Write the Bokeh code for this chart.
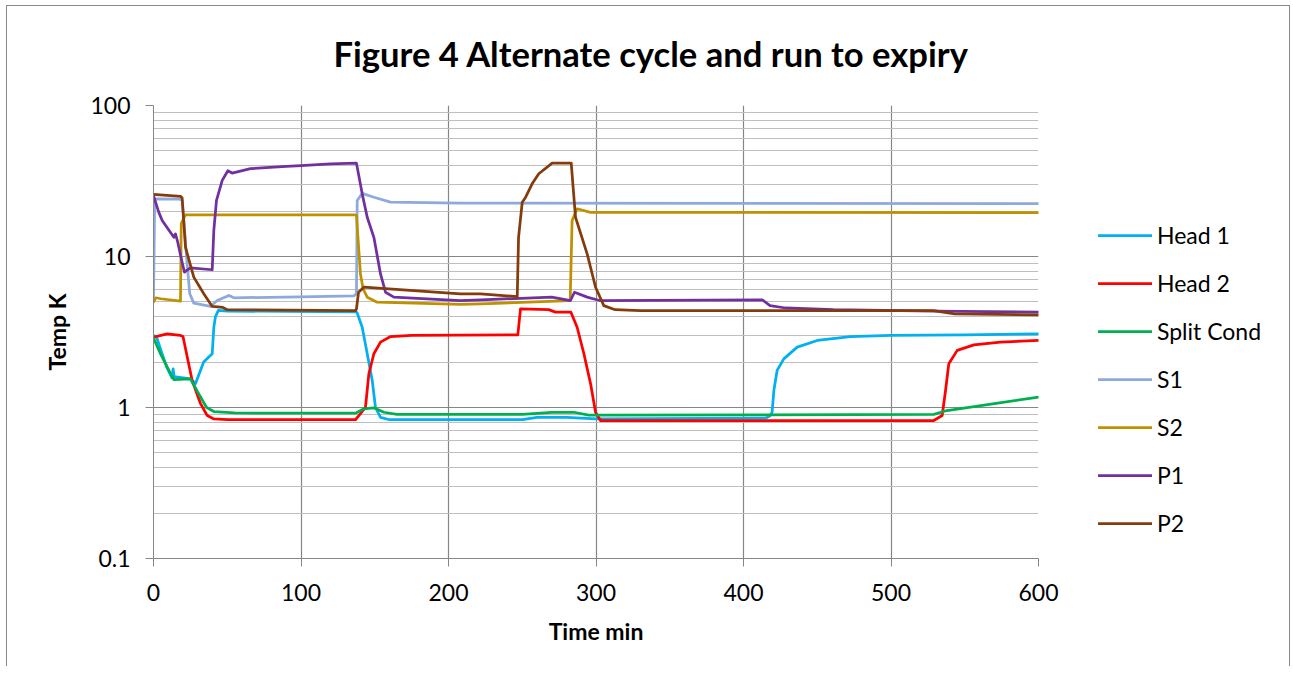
from bokeh.plotting import figure
from bokeh.layouts import row
from bokeh.models import (FixedTicker, Legend, LegendItem, CustomJSTickFormatter, Range1d,
                          LinearAxis)
from bokeh.embed import file_html
from bokeh.resources import INLINE

title_text = "Figure 4 Alternate cycle and run to expiry"
x_title = "Time min"
y_title = "Temp K"
x_ticks = [0, 100, 200, 300, 400, 500, 600]
y_ticks = [0.1, 1, 10, 100]
y_minor = [0.2, 0.3, 0.4, 0.5, 0.6, 0.7, 0.8, 0.9,
           2, 3, 4, 5, 6, 7, 8, 9,
           20, 30, 40, 50, 60, 70, 80, 90]

names = ["Head 1", "Head 2", "Split Cond", "S1", "S2", "P1", "P2"]
colors = ["#00B0F0", "#FF0000", "#00B050", "#8EA9DB", "#BF9000", "#7030A0", "#843C0C"]

head1_t = [0, 2, 5, 9, 12.5, 13.3, 14, 25, 28.5, 34, 39.8, 40.9, 42, 44, 50, 137, 138,
           141.5, 144.9, 148.3, 150.5, 153.9, 160, 250, 260, 280, 290, 300, 415, 418,
           419.4, 420.6, 422.8, 427.3, 436.4, 450, 472.5, 500, 550, 600]
head1_v = [3.0, 2.95, 2.4, 1.85, 1.57, 1.8, 1.6, 1.55, 1.44, 2.0, 2.27, 3.4, 4.0, 4.4, 4.35,
           4.3, 4.25, 3.4, 2.27, 1.51, 1.0, 0.86, 0.83, 0.83, 0.86, 0.86, 0.85, 0.84, 0.85,
           0.88, 0.93, 1.3, 1.76, 2.1, 2.51, 2.78, 2.95, 3.0, 3.03, 3.07]

head2_t = [0, 5, 9.3, 18.3, 20, 26.2, 31.9, 36.4, 40.9, 50, 137, 140.3, 143.7, 146, 149.4,
           153.9, 160.7, 175, 247, 248.8, 268, 272.5, 283, 287.2, 291.8, 296.3, 299.7, 303,
           529, 534.7, 537, 539.2, 544.9, 556.2, 574.2, 600]
head2_v = [2.92, 3.0, 3.07, 3.0, 2.95, 1.51, 1.06, 0.885, 0.84, 0.83, 0.83, 0.91, 1.0, 1.67,
           2.27, 2.71, 2.95, 3.0, 3.03, 4.5, 4.45, 4.28, 4.28, 3.4, 2.27, 1.44, 0.93, 0.82,
           0.82, 0.885, 1.3, 1.95, 2.39, 2.6, 2.71, 2.78]

split_t = [0, 4.7, 9.3, 13.8, 25, 30.7, 36, 40.9, 55, 137, 142.6, 149.4, 156.2, 165, 250,
           270, 285, 295, 529, 538, 600]
split_v = [2.89, 2.27, 1.85, 1.53, 1.55, 1.23, 1.0, 0.94, 0.92, 0.917, 0.98, 0.995, 0.93, 0.9,
           0.9, 0.93, 0.93, 0.89, 0.9, 0.955, 1.17]

s1_t = [0, 0.8, 2, 17.6, 19.5, 22.8, 24.6, 27.3, 38.6, 43.2, 51.1, 54.5, 100, 135.8, 137.6,
        138.1, 141.5, 149.4, 160.7, 208, 600]
s1_v = [5.1, 23.5, 24.1, 24.0, 23.5, 8.94, 5.66, 4.91, 4.67, 5.11, 5.52, 5.33, 5.4, 5.49, 5.66,
        23.5, 26.2, 24.7, 22.9, 22.6, 22.4]

s2_t = [0, 1.5, 5, 18.3, 18.8, 21.7, 135.8, 137.6, 140.3, 142.1, 144.9, 151.6, 208, 222,
        282.5, 283.8, 287.2, 296.3, 600]
s2_v = [4.98, 5.33, 5.25, 5.06, 16.5, 18.9, 18.9, 18.7, 7.67, 6.11, 5.38, 4.98, 4.81, 4.85,
        5.11, 17.3, 20.7, 19.6, 19.5]

p1_t = [0, 3.6, 5.9, 13.8, 14.9, 16.2, 19.4, 21, 25, 39.8, 40.9, 42.7, 46.6, 50.4, 53.3,
        65.8, 90, 100, 120, 137.6, 141.5, 144.9, 149.4, 153.9, 157.3, 162.9, 208, 222, 270,
        282.7, 285.4, 294, 302.4, 412.7, 418, 428.5, 461, 529, 600]
p1_v = [25.3, 19.6, 17.3, 13.4, 14.1, 12.7, 9.17, 7.87, 8.42, 8.17, 14.9, 23.5, 31.9, 37.0,
        35.7, 38.2, 39.5, 40.0, 41.0, 41.5, 26.0, 18.2, 13.4, 7.67, 5.8, 5.38, 5.11, 5.17,
        5.38, 5.11, 5.8, 5.38, 5.11, 5.17, 4.73, 4.56, 4.44, 4.35, 4.28]

p2_t = [0, 18.3, 19.4, 21.7, 27.3, 34.1, 39.8, 47, 50, 137, 137.6, 139, 142.6, 208, 221.7,
        246.6, 247.5, 250, 252.3, 256.7, 261.2, 270.3, 283.2, 286.1, 294, 299.7, 305.3, 313,
        330, 529, 543, 600]
p2_v = [25.8, 25.0, 24.5, 11.5, 7.3, 5.66, 4.67, 4.6, 4.44, 4.38, 4.5, 5.8, 6.26, 5.66, 5.66,
        5.43, 13.4, 22.9, 24.7, 30.3, 35.3, 41.5, 41.5, 18.2, 10.4, 6.26, 4.73, 4.44, 4.38,
        4.38, 4.17, 4.1]

series_t = [head1_t, head2_t, split_t, s1_t, s2_t, p1_t, p2_t]
series_v = [head1_v, head2_v, split_v, s1_v, s2_v, p1_v, p2_v]

FONT = "Lato"
H = 660

# ---------------- main chart ----------------
p = figure(width=1061, height=H, y_axis_type="log",
           x_range=Range1d(0, 600), y_range=Range1d(0.1, 100),
           output_backend="svg", toolbar_location=None,
           min_border_left=146, min_border_right=30,
           min_border_top=99, min_border_bottom=108)
p.outline_line_color = None
p.background_fill_color = "white"
p.border_fill_color = "white"

p.title.text = title_text
p.title.text_font = FONT
p.title.text_font_size = "34.6px"
p.title.text_font_style = "bold"
p.title.text_color = "black"
p.title.align = "left"
p.title.offset = 180
p.title.standoff = 10

xax = p.below[0]
yax = p.left[0]
xax.ticker = FixedTicker(ticks=x_ticks)
yax.ticker = FixedTicker(ticks=y_ticks, minor_ticks=y_minor)
yax.formatter = CustomJSTickFormatter(code="return String(tick);")
for ax in (xax, yax):
    ax.axis_line_color = "#868686"
    ax.axis_line_width = 1
    ax.major_tick_line_color = "#868686"
    ax.major_tick_out = 8
    ax.major_tick_in = 0
    ax.minor_tick_line_color = None
    ax.major_label_text_font = FONT
    ax.major_label_text_font_size = "23px"
    ax.major_label_text_color = "black"
    ax.axis_label_text_font = FONT
    ax.axis_label_text_font_size = "23px"
    ax.axis_label_text_font_style = "bold"
    ax.axis_label_text_color = "black"
xax.axis_label = x_title
yax.axis_label = y_title
xax.major_label_standoff = 17
yax.major_label_standoff = 15
xax.axis_label_standoff = 13
yax.axis_label_standoff = 16

p.xgrid.grid_line_color = "#868686"
p.xgrid.grid_line_width = 1.2
p.ygrid.grid_line_color = "#868686"
p.ygrid.grid_line_width = 1.2
p.ygrid.minor_grid_line_color = "#BFBFBF"
p.ygrid.minor_grid_line_width = 1.2

# blank band between title and plot area: an invisible axis (no line, no tick marks,
# empty labels) that only reserves vertical space
top_gap = LinearAxis(ticker=FixedTicker(ticks=[x_ticks[3]]), axis_line_color=None,
                     major_tick_line_color=None, minor_tick_line_color=None,
                     major_tick_out=27, major_tick_in=0, minor_tick_out=0,
                     major_label_standoff=0, axis_label_standoff=0,
                     major_label_text_font_size="1px",
                     formatter=CustomJSTickFormatter(code="return '';"))
p.add_layout(top_gap, "above")

for name, col, t, v in zip(names, colors, series_t, series_v):
    p.line(t, v, line_color=col, line_width=2.75, line_join="round", line_cap="round")

# ---------------- legend panel ----------------
pl = figure(width=221, height=H, x_range=Range1d(0, 1), y_range=Range1d(0, 1),
            output_backend="svg", toolbar_location=None,
            x_axis_location=None, y_axis_location=None,
            min_border_left=0, min_border_right=0, min_border_top=0, min_border_bottom=0)
pl.outline_line_color = None
pl.grid.visible = False
pl.background_fill_color = "white"
pl.border_fill_color = "white"

items = []
for name, col in zip(names, colors):
    # single-point line: nothing is drawn in the panel, only the legend swatch
    r = pl.line([0], [0], line_color=col, line_width=2.75, line_cap="round")
    items.append(LegendItem(label=name, renderers=[r]))

legend = Legend(items=items, location=(30, 20))
legend.margin = 0
legend.padding = 0
legend.border_line_color = None
legend.background_fill_alpha = 0
legend.label_text_font = FONT
legend.label_text_font_size = "23px"
legend.label_text_color = "black"
legend.glyph_width = 54
legend.glyph_height = 30
legend.label_height = 30
legend.label_standoff = 5
legend.spacing = 18
pl.add_layout(legend)

layout = row(p, pl, spacing=0)
layout.styles = {"margin-left": "6px", "margin-top": "5px",
                 "border-left": "1px solid #8a8a8a", "border-top": "1px solid #8a8a8a",
                 "border-right": "1px solid #8a8a8a"}

open("out.html", "w").write(file_html(layout, INLINE))
